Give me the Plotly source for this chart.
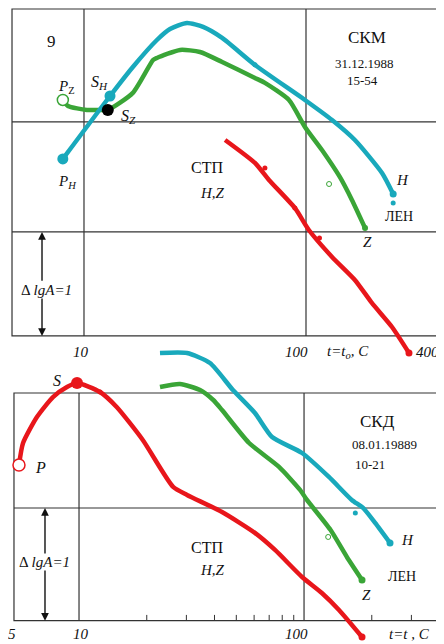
import numpy as np
import plotly.graph_objects as go

# ---------------- data (t in seconds, lgA relative) ----------------
# Top panel: СКМ 31.12.1988 15-54
top_H_t   = [8.03, 13.1, 16.6, 21.3, 24.4, 29.1, 34.4, 41.9, 58.9, 98.9, 131, 166, 220, 247]
top_H_lgA = [0.664, 1.236, 1.5, 1.745, 1.845, 1.9, 1.864, 1.764, 1.518, 1.2, 1.018, 0.836, 0.536, 0.345]
top_Z_t   = [8.03, 8.47, 10.3, 11.8, 12.8, 16.6, 20.5, 21.3, 27.1, 33.3, 41.9, 58.9, 65.3, 83.8, 98.9, 118, 142, 161, 184.5]
top_Z_lgA = [1.2, 1.145, 1.109, 1.109, 1.109, 1.264, 1.564, 1.582, 1.655, 1.636, 1.545, 1.4, 1.355, 1.2, 0.955, 0.745, 0.5, 0.291, 0.036]
top_R_t   = [43.2, 58.9, 68.1, 89.1, 103, 131, 166, 198, 244, 291]
top_R_lgA = [0.836, 0.627, 0.473, 0.218, 0.018, -0.227, -0.436, -0.645, -0.864, -1.1]
top_R_dots_t, top_R_dots_lgA = [65.3, 89.1, 115], [0.582, 0.218, -0.055]
top_H_dots_t, top_H_dots_lgA = [58.9, 247], [1.52, 0.264]
top_Z_dot_t, top_Z_dot_lgA = [127], [0.436]

# Bottom panel: СКД 08.01.19889 10-21
bot_R_t   = [5.41, 5.64, 6.50, 7.66, 8.84, 9.8, 12.4, 14.7, 19.2, 26.2, 30.2, 43.2, 60.5, 74.3, 98, 120, 143, 181]
bot_R_lgA = [0.374, 0.565, 0.791, 0.965, 1.052, 1.087, 1.009, 0.878, 0.591, 0.183, 0.113, -0.035, -0.217, -0.365, -0.6, -0.739, -0.887, -1.122]
bot_R_dot_t, bot_R_dot_lgA = [12.4], [1.009]
bot_H_t   = [22.9, 30.2, 38.2, 48.3, 60.5, 72.1, 98, 129, 163, 183, 207, 241]
bot_H_lgA = [1.348, 1.348, 1.261, 1.026, 0.826, 0.617, 0.478, 0.27, 0.07, 0.0, -0.13, -0.304]
bot_H_dot_t, bot_H_dot_lgA = [169], [-0.043]
bot_Z_t   = [22.9, 28.1, 34.5, 39.5, 43.2, 57.0, 77.4, 96, 103, 131, 155, 181]
bot_Z_lgA = [1.052, 1.078, 1.026, 0.939, 0.852, 0.565, 0.357, 0.157, 0.07, -0.19, -0.426, -0.626]
bot_Z_dot_t, bot_Z_dot_lgA = [128], [-0.252]

minor_ticks = [20, 30, 40, 50, 60, 70, 80, 90, 200, 300]

CYAN, GREEN, RED = "#19a9bc", "#3aa537", "#e8161b"
FONT = "Liberation Serif"
LW = 4.5

fig = go.Figure()

def line(t, a, color, xa, ya):
    fig.add_trace(go.Scatter(x=t, y=a, mode="lines", line=dict(color=color, width=LW, shape="spline", smoothing=0.6),
                             xaxis=xa, yaxis=ya, hoverinfo="skip"))

def pts(t, a, color, size, xa, ya, fill=None, lw=0):
    fig.add_trace(go.Scatter(x=t, y=a, mode="markers",
                             marker=dict(color=fill if fill else color, size=size,
                                         line=dict(color=color, width=lw)),
                             xaxis=xa, yaxis=ya, hoverinfo="skip", cliponaxis=False))

# top panel
line(top_Z_t, top_Z_lgA, GREEN, "x", "y")
line(top_H_t, top_H_lgA, CYAN, "x", "y")
line(top_R_t, top_R_lgA, RED, "x", "y")
pts([top_H_t[0], top_H_t[1]], [top_H_lgA[0], top_H_lgA[1]], CYAN, 11, "x", "y")
pts([top_Z_t[0]], [top_Z_lgA[0]], GREEN, 11, "x", "y", fill="white", lw=1.5)
pts([top_Z_t[4]], [top_Z_lgA[4]], "black", 12, "x", "y")
pts([top_H_t[-1]], [top_H_lgA[-1]], CYAN, 7, "x", "y")
pts([top_Z_t[-1]], [top_Z_lgA[-1]], GREEN, 6, "x", "y")
pts([top_R_t[-1]], [top_R_lgA[-1]], RED, 7, "x", "y")
pts(top_R_dots_t, top_R_dots_lgA, RED, 5, "x", "y")
pts(top_H_dots_t, top_H_dots_lgA, CYAN, 5, "x", "y")
pts(top_Z_dot_t, top_Z_dot_lgA, GREEN, 5, "x", "y", fill="white", lw=1)

# bottom panel
line(bot_Z_t, bot_Z_lgA, GREEN, "x2", "y2")
line(bot_H_t, bot_H_lgA, CYAN, "x2", "y2")
line(bot_R_t, bot_R_lgA, RED, "x2", "y2")
pts([bot_R_t[0]], [bot_R_lgA[0]], RED, 12, "x2", "y2", fill="white", lw=1.5)
pts([bot_R_t[5]], [bot_R_lgA[5]], RED, 12, "x2", "y2")
pts(bot_R_dot_t, bot_R_dot_lgA, RED, 5, "x2", "y2")
pts([bot_R_t[-1]], [bot_R_lgA[-1]], RED, 7, "x2", "y2")
pts([bot_H_t[-1]], [bot_H_lgA[-1]], CYAN, 7, "x2", "y2")
pts([bot_Z_t[-1]], [bot_Z_lgA[-1]], GREEN, 7, "x2", "y2")
pts(bot_H_dot_t, bot_H_dot_lgA, CYAN, 5, "x2", "y2")
pts(bot_Z_dot_t, bot_Z_dot_lgA, GREEN, 5, "x2", "y2", fill="white", lw=1)

shapes = []
LC = dict(color="#333333", width=1.2)
def frame(xr, yr, x0, x1, y0, y1, vlines, hlines):
    shapes.append(dict(type="rect", xref=xr, yref=yr, x0=x0, x1=x1, y0=y0, y1=y1, line=LC, layer="below"))
    for v in vlines:
        shapes.append(dict(type="line", xref=xr, yref=yr, x0=v, x1=v, y0=y0, y1=y1, line=LC, layer="below"))
    for h in hlines:
        shapes.append(dict(type="line", xref=xr, yref=yr, x0=x0, x1=x1, y0=h, y1=h, line=LC, layer="below"))

frame("x", "y", 4.74, 389, -0.945, 2.027, [10, 100], [0, 1])
frame("x2", "y2", 5.14, 395, -0.98, 1.0, [10, 100], [0])
for mt in minor_ticks:
    shapes.append(dict(type="line", xref="x2", yref="y2", x0=mt, x1=mt, y0=-0.98, y1=-0.93,
                       line=dict(color="#333333", width=1), layer="below"))

ann = []
def txt(t, a, s, xr, yr, size=13, bg=None):
    ann.append(dict(x=np.log10(t), y=a, xref=xr, yref=yr, text=s, showarrow=False,
                    font=dict(family=FONT, size=size, color="#111"),
                    bgcolor=bg, borderpad=0))

def arrow(t, a_tip, a_tail, xr, yr):
    ann.append(dict(x=np.log10(t), y=a_tip, ax=np.log10(t), ay=a_tail, xref=xr, yref=yr,
                    axref=xr, ayref=yr, text=" ", showarrow=True, arrowhead=2, arrowsize=1.1,
                    arrowwidth=1.4, arrowcolor="#111", font=dict(size=2)))

# top labels
txt(7.17, 1.727, "9", "x", "y", 17)
txt(8.3, 1.32, "<i>P</i><sub>Z</sub>", "x", "y", 15)
txt(11.8, 1.36, "<i>S</i><sub><i>H</i></sub>", "x", "y", 16)
txt(15.8, 1.05, "<i>S</i><sub><i>Z</i></sub>", "x", "y", 16)
txt(8.47, 0.455, "<i>P</i><sub><i>H</i></sub>", "x", "y", 15)
txt(188, 1.764, "СКМ", "x", "y", 17)
txt(183, 1.536, "31.12.1988", "x", "y", 13)
txt(179, 1.373, "15-54", "x", "y", 13)
txt(35.8, 0.582, "СТП", "x", "y", 16)
txt(38.1, 0.355, "<i>H,Z</i>", "x", "y", 15)
txt(273, 0.473, "<i>H</i>", "x", "y", 15)
txt(262, 0.145, "ЛЕН", "x", "y", 14)
txt(190, -0.091, "<i>Z</i>", "x", "y", 15)
arrow(6.47, 0.0, -0.47, "x", "y")
arrow(6.47, -0.945, -0.47, "x", "y")
txt(6.75, -0.527, "Δ <i>lgA=1</i>", "x", "y", 15, bg="white")
txt(9.7, -1.091, "<i>10</i>", "x", "y", 15)
txt(91, -1.091, "<i>100</i>", "x", "y", 15)
txt(155, -1.091, "<i>t=t<sub>o</sub>, C</i>", "x", "y", 15)
txt(352, -1.091, "<i>400</i>", "x", "y", 15)

# bottom labels
txt(7.98, 1.113, "<i>S</i>", "x2", "y2", 16)
txt(6.71, 0.348, "<i>P</i>", "x2", "y2", 16)
txt(211, 0.748, "СКД", "x2", "y2", 17)
txt(227, 0.548, "08.01.19889", "x2", "y2", 13)
txt(196, 0.374, "10-21", "x2", "y2", 13)
txt(37, -0.348, "СТП", "x2", "y2", 16)
txt(39, -0.539, "<i>H,Z</i>", "x2", "y2", 15)
txt(287, -0.278, "<i>H</i>", "x2", "y2", 15)
txt(273, -0.6, "ЛЕН", "x2", "y2", 14)
txt(189, -0.757, "<i>Z</i>", "x2", "y2", 15)
arrow(7.06, 0.0, -0.47, "x2", "y2")
arrow(7.06, -0.98, -0.47, "x2", "y2")
txt(7.06, -0.47, "Δ <i>lgA=1</i>", "x2", "y2", 15, bg="white")
txt(5.03, -1.10, "<i>5</i>", "x2", "y2", 15)
txt(10.2, -1.10, "<i>10</i>", "x2", "y2", 15)
txt(93, -1.10, "<i>100</i>", "x2", "y2", 15)
txt(293, -1.10, "<i>t=t , C</i>", "x2", "y2", 15)

# The page body has an 8px default margin: the figure spans page px 8..444 x 8..644.
# The two panels' drawing areas overlap slightly so curves may spill past the frames.
W, H = 436, 636
ax_common = dict(visible=False, showgrid=False, zeroline=False, fixedrange=True)
fig.update_layout(
    width=W, height=H, margin=dict(l=0, r=0, t=0, b=0),
    paper_bgcolor="white", plot_bgcolor="rgba(0,0,0,0)", showlegend=False,
    xaxis=dict(type="log", range=[0.6577, 2.6216], domain=[0, 1], anchor="y", **ax_common),
    yaxis=dict(range=[-1.164, 2.036], domain=[1 - 352 / H, 1], anchor="x", **ax_common),
    xaxis2=dict(type="log", range=[0.6844, 2.622], domain=[0, 1], anchor="y2", **ax_common),
    yaxis2=dict(range=[-1.183, 1.461], domain=[0, 304 / H], anchor="x2", **ax_common),
    shapes=shapes, annotations=ann,
)
fig.write_html("out.html")
